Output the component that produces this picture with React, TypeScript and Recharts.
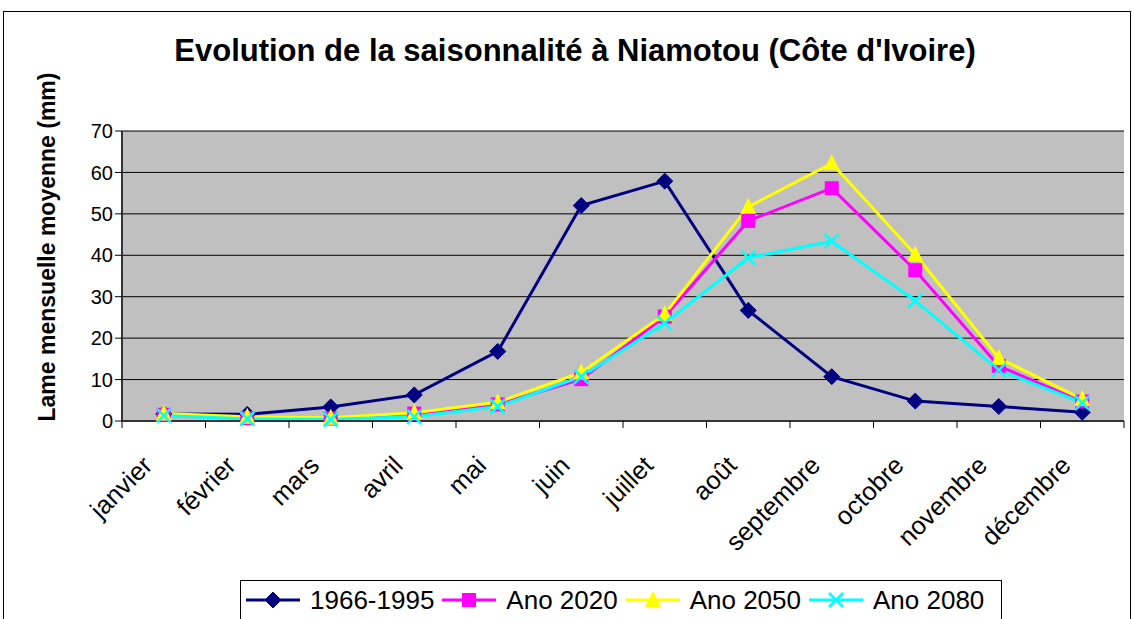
import { LineChart, Line, XAxis, YAxis, CartesianGrid, Legend } from 'recharts';

const months = ['janvier', 'février', 'mars', 'avril', 'mai', 'juin', 'juillet', 'août', 'septembre', 'octobre', 'novembre', 'décembre'];
const ref1966 = [1.7, 1.6, 3.4, 6.3, 16.8, 52.0, 57.9, 26.7, 10.7, 4.8, 3.5, 2.1];
const ano2020 = [1.5, 0.7, 0.6, 1.8, 4.0, 10.1, 25.2, 48.3, 56.2, 36.4, 13.3, 4.7];
const ano2050 = [1.8, 1.0, 0.8, 2.0, 4.5, 11.7, 25.8, 51.7, 62.2, 40.2, 15.2, 5.3];
const ano2080 = [1.3, 0.5, 0.4, 1.0, 3.5, 10.7, 23.6, 39.4, 43.4, 29.0, 12.3, 4.4];
const yTicks = [0, 10, 20, 30, 40, 50, 60, 70];

const data = months.map((m, i) => ({
  month: m,
  a: ref1966[i],
  b: ano2020[i],
  c: ano2050[i],
  d: ano2080[i],
}));

const FONT = '"Liberation Sans", Arial, sans-serif';
const PLOT_LEFT = 122;
const PLOT_RIGHT = 1124;
const BAND = (PLOT_RIGHT - PLOT_LEFT) / months.length;

const NAVY = '#000080';
const MAGENTA = '#FF00FF';
const YELLOW = '#FFFF00';
const CYAN = '#00FFFF';

// marker shapes (colour passed as "c" since recharts overrides fill on dots)
const Diamond = ({ cx, cy, c }: any) =>
  cx == null ? null : <polygon points={`${cx},${cy - 8} ${cx + 8},${cy} ${cx},${cy + 8} ${cx - 8},${cy}`} fill={c} stroke={c} />;
const Square = ({ cx, cy, c }: any) =>
  cx == null ? null : <rect x={cx - 7} y={cy - 7} width={14} height={14} fill={c} />;
const Triangle = ({ cx, cy, c }: any) =>
  cx == null ? null : <polygon points={`${cx},${cy - 9} ${cx + 8},${cy + 7} ${cx - 8},${cy + 7}`} fill={c} />;
const Cross = ({ cx, cy, c }: any) =>
  cx == null ? null : (
    <g stroke={c} strokeWidth={2.5}>
      <line x1={cx - 7} y1={cy - 7} x2={cx + 7} y2={cy + 7} />
      <line x1={cx - 7} y1={cy + 7} x2={cx + 7} y2={cy - 7} />
    </g>
  );

const series = [
  { key: 'a', name: '1966-1995', color: NAVY, Dot: Diamond },
  { key: 'b', name: 'Ano 2020', color: MAGENTA, Dot: Square },
  { key: 'c', name: 'Ano 2050', color: YELLOW, Dot: Triangle },
  { key: 'd', name: 'Ano 2080', color: CYAN, Dot: Cross },
];

const MonthTick = ({ x, y, payload, index }: any) => (
  <g>
    <line x1={x - BAND / 2} y1={y - 8} x2={x - BAND / 2} y2={y - 1} stroke="#000" />
    {index === months.length - 1 && (
      <line x1={x + BAND / 2} y1={y - 8} x2={x + BAND / 2} y2={y - 1} stroke="#000" />
    )}
    <text
      x={x - 10}
      y={y + 38}
      textAnchor="end"
      transform={`rotate(-45, ${x - 10}, ${y + 38})`}
      fontSize={25.5}
      fontFamily={FONT}
      fill="#000"
    >
      {payload.value}
    </text>
  </g>
);

const LegendBox = () => (
  <div
    style={{
      border: '1px solid #000',
      background: '#fff',
      display: 'flex',
      alignItems: 'center',
      height: 40,
      boxSizing: 'border-box',
      paddingLeft: 4,
      fontFamily: FONT,
      fontSize: 26,
    }}
  >
    {series.map((s) => (
      <div key={s.key} style={{ display: 'flex', alignItems: 'center', marginRight: 7 }}>
        <svg width={56} height={24}>
          <line x1={1} y1={12} x2={55} y2={12} stroke={s.color} strokeWidth={3} />
          <s.Dot cx={28} cy={12} c={s.color} />
        </svg>
        <span style={{ marginLeft: 9 }}>{s.name}</span>
      </div>
    ))}
  </div>
);

export default function App() {
  return (
    <div style={{ position: 'absolute', left: 0, top: 0, width: 1134, height: 619, background: '#fff', overflow: 'hidden' }}>
      <div style={{ position: 'absolute', left: 3, top: 11, width: 1128, height: 640, border: '1px solid #000', boxSizing: 'border-box' }} />
      <div
        style={{
          position: 'absolute',
          left: 0,
          width: 1150,
          top: 33,
          textAlign: 'center',
          fontFamily: FONT,
          fontWeight: 'bold',
          fontSize: 31,
        }}
      >
        Evolution de la saisonnalité à Niamotou (Côte d'Ivoire)
      </div>
      <LineChart
        width={1134}
        height={619}
        data={data}
        margin={{ top: 131, right: 10, bottom: 0, left: 0 }}
        style={{ position: 'absolute', left: 0, top: 0 }}
      >
        <CartesianGrid vertical={false} fill="#C0C0C0" stroke="#000" fillOpacity={1} />
        <XAxis
          dataKey="month"
          height={198}
          interval={0}
          padding={{ left: BAND / 2, right: BAND / 2 }}
          tickLine={false}
          axisLine={{ stroke: '#333', strokeWidth: 2 }}
          tick={<MonthTick />}
        />
        <YAxis
          width={122}
          domain={[0, 70]}
          ticks={yTicks}
          interval={0}
          tickSize={7}
          tickLine={{ stroke: '#000' }}
          axisLine={{ stroke: '#333', strokeWidth: 2 }}
          tick={{ fontSize: 20, fontFamily: FONT, fill: '#000' }}
          label={() => (
            <text
              x={55}
              y={247}
              textAnchor="middle"
              transform="rotate(-90, 55, 247)"
              fontSize={23}
              fontWeight="bold"
              fontFamily={FONT}
              fill="#000"
            >
              Lame mensuelle moyenne (mm)
            </text>
          )}
        />
        <YAxis yAxisId="r" orientation="right" width={0} domain={[0, 70]} tick={false} tickLine={false} axisLine={{ stroke: '#808080', strokeWidth: 2 }} />
        {series.map((s) => (
          <Line
            key={s.key}
            dataKey={s.key}
            name={s.name}
            stroke={s.color}
            strokeWidth={3}
            dot={<s.Dot c={s.color} />}
            activeDot={false}
            isAnimationActive={false}
          />
        ))}
        <Legend
          layout="horizontal"
          verticalAlign="middle"
          align="center"
          wrapperStyle={{ left: 240, top: 580, width: 762, height: 40 }}
          content={<LegendBox />}
        />
      </LineChart>
    </div>
  );
}
